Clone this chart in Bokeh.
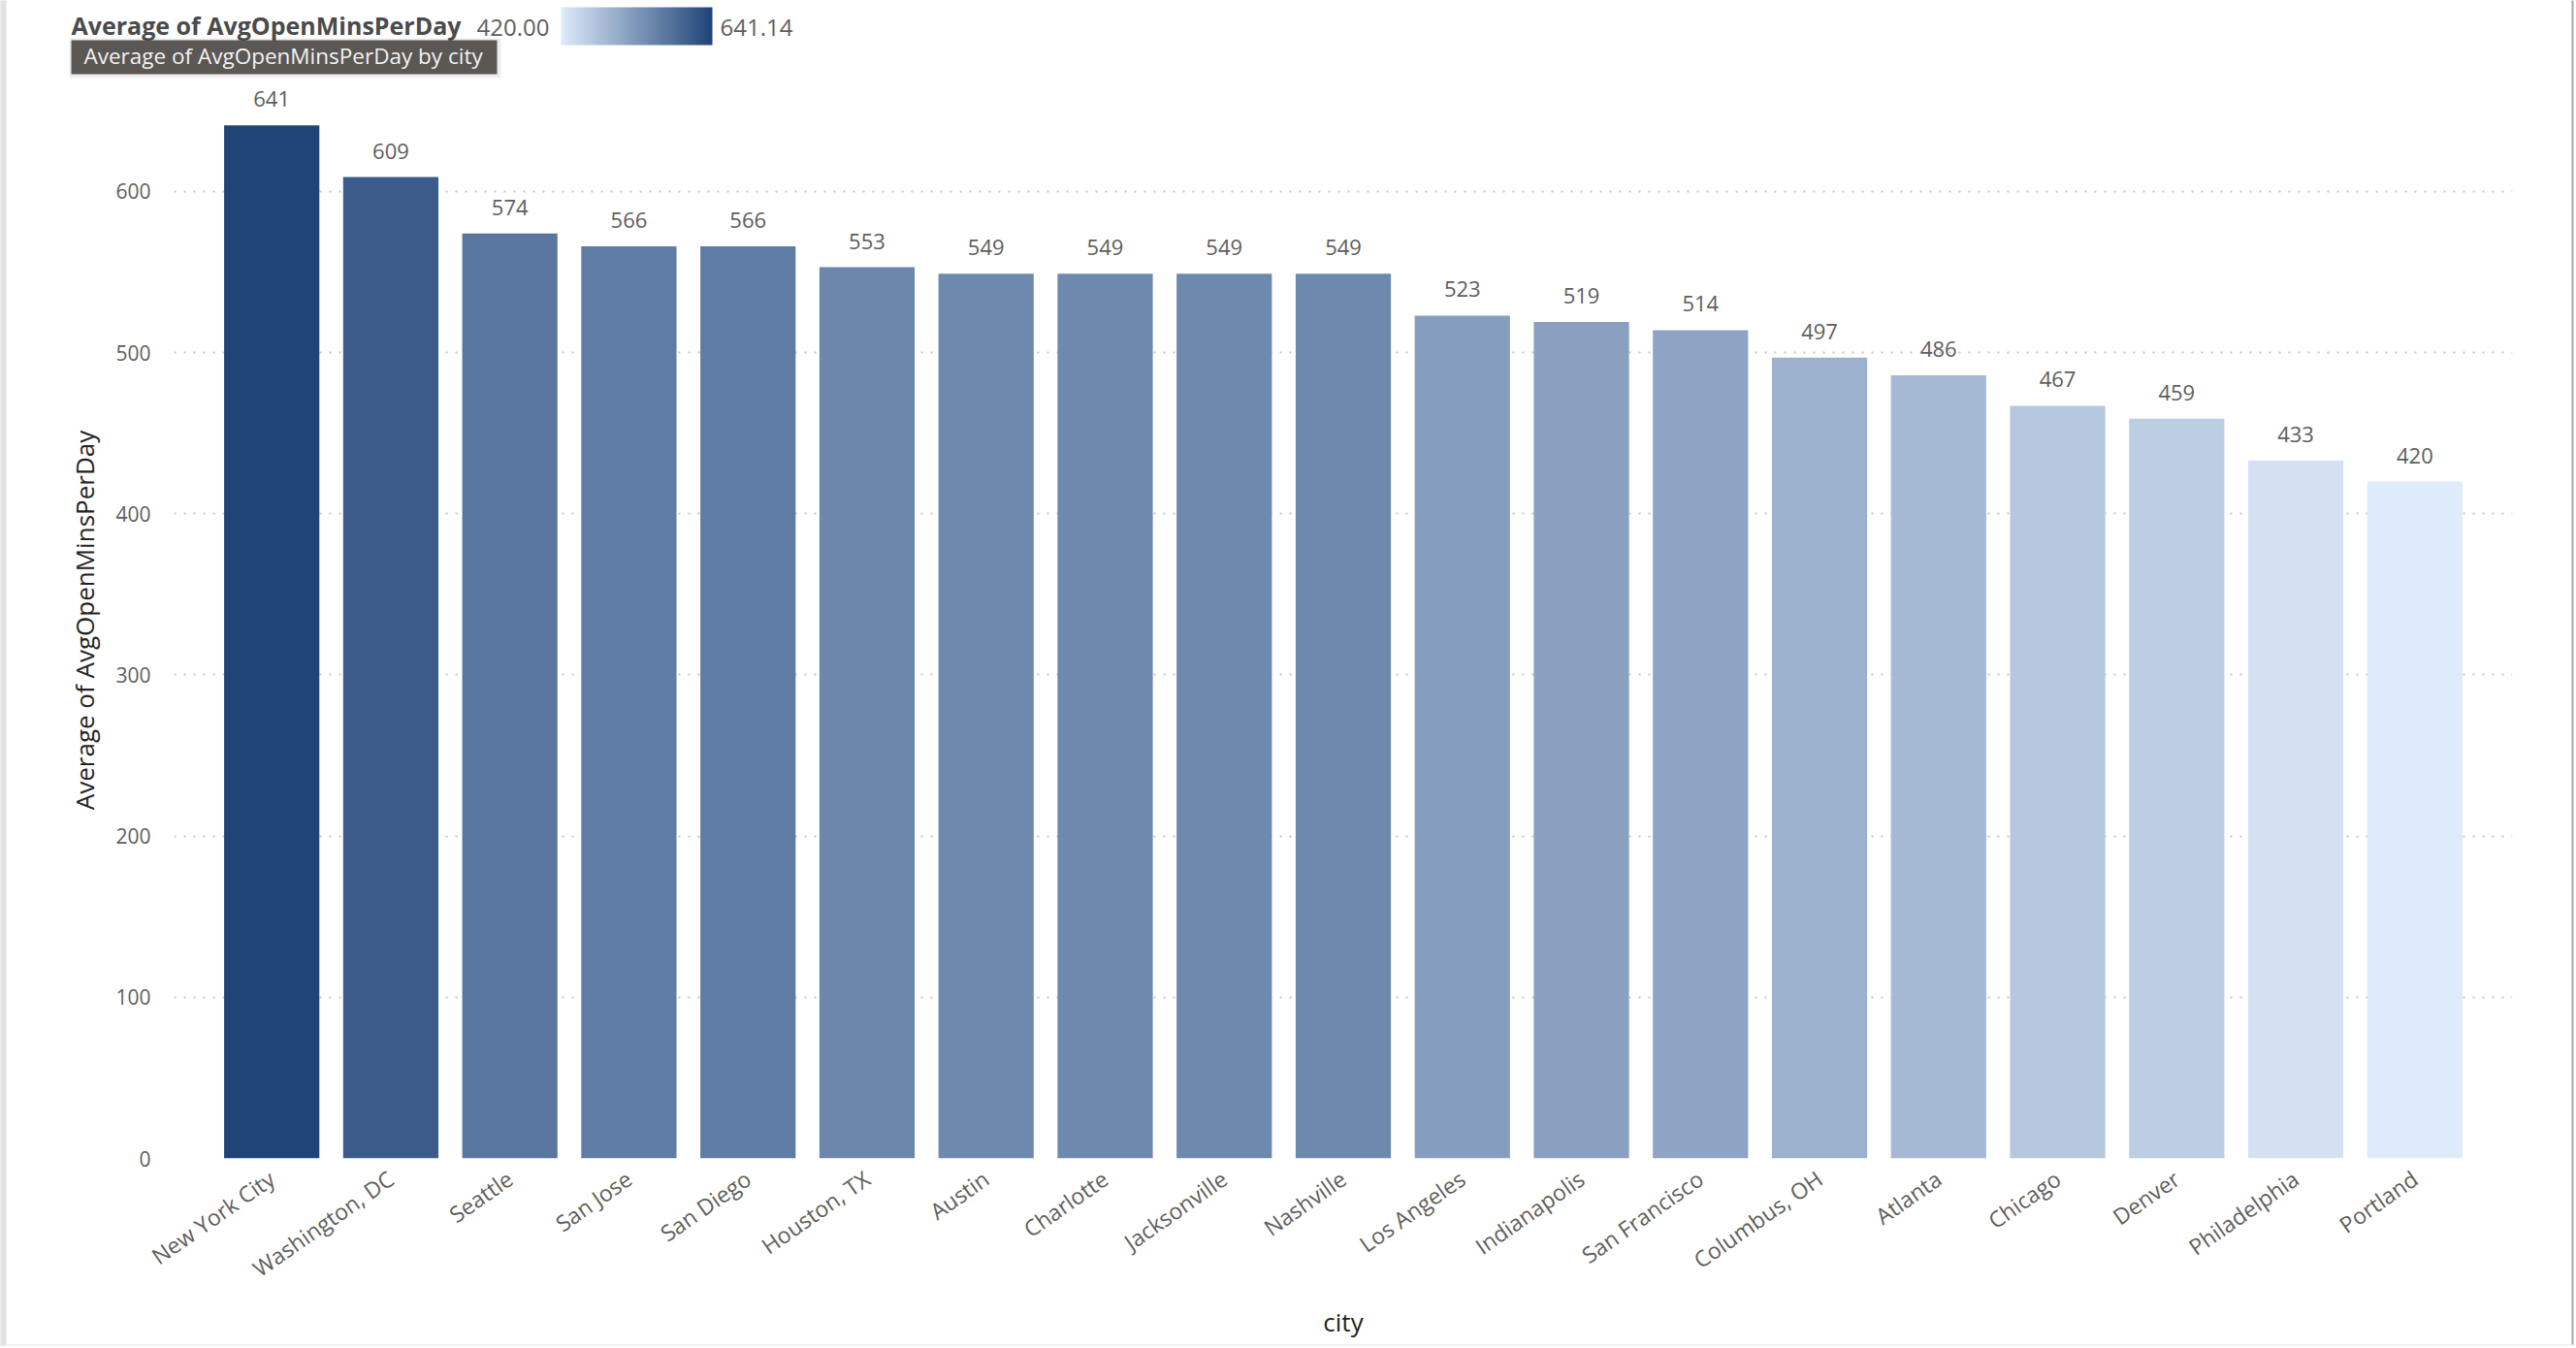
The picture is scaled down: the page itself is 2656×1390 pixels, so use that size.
import math
import numpy as np
from bokeh.plotting import figure
from bokeh.models import (FactorRange, FixedTicker, LinearColorMapper, ColumnDataSource,
                          Range1d, ColorBar)
from bokeh.embed import file_html
from bokeh.resources import INLINE
from bokeh.core.properties import value

# ---------------- data ----------------
cities = ["New York City", "Washington, DC", "Seattle", "San Jose", "San Diego",
          "Houston, TX", "Austin", "Charlotte", "Jacksonville", "Nashville",
          "Los Angeles", "Indianapolis", "San Francisco", "Columbus, OH", "Atlanta",
          "Chicago", "Denver", "Philadelphia", "Portland"]
avg_open_mins = [641.14, 609, 574, 566, 566, 553, 549, 549, 549, 549,
                 523, 519, 514, 497, 486, 467, 459, 433, 420.00]
y_ticks = [0, 100, 200, 300, 400, 500, 600]
legend_title = "Average of AvgOpenMinsPerDay"
tooltip_text = "Average of AvgOpenMinsPerDay by city"
x_title = "city"
y_title = "Average of AvgOpenMinsPerDay"

FONT = "Open Sans"
W, H = 2654, 1388
FL, FR, FT = 179, 2590, 84          # frame left / right / top (canvas px)
FB = 1194                           # frame bottom (canvas px)
PAD = 0.32                          # categorical padding on each side

# gradient palette (light -> dark)
low_rgb = np.array([0xDE, 0xEB, 0xFB])
high_rgb = np.array([0x1F, 0x44, 0x78])
palette = []
for t in np.linspace(0, 1, 256):
    c = np.round(low_rgb + (high_rgb - low_rgb) * t).astype(int)
    palette.append("#%02x%02x%02x" % tuple(c))
vmin, vmax = min(avg_open_mins), max(avg_open_mins)
mapper = LinearColorMapper(palette=palette, low=vmin, high=vmax)

src = ColumnDataSource(dict(city=cities, val=avg_open_mins,
                            label=[str(int(round(v))) for v in avg_open_mins]))

p = figure(width=W, height=H,
           x_range=FactorRange(factors=cities, range_padding=PAD, range_padding_units="absolute"),
           y_range=Range1d(0, 668),
           toolbar_location=None, output_backend="svg",
           min_border_left=FL, min_border_right=W - FR,
           min_border_top=FT, min_border_bottom=H - FB)
p.outline_line_color = None

p.vbar(x="city", top="val", width=0.8, source=src,
       fill_color={"field": "val", "transform": mapper}, line_color=None)
p.text(x="city", y="val", text="label", source=src, text_font=value(FONT),
       text_font_size="22px", text_color="#605E5C", text_align="center",
       text_baseline="bottom", y_offset=-19)

p.xgrid.grid_line_color = None
p.ygrid.grid_line_color = "#C8C6C4"
p.ygrid.grid_line_dash = "2 8"
p.ygrid.grid_line_width = 2

p.yaxis.ticker = FixedTicker(ticks=y_ticks)
for ax in (p.xaxis[0], p.yaxis[0]):
    ax.axis_line_color = None
    ax.major_tick_line_color = None
    ax.minor_tick_line_color = None
    ax.major_label_text_font = FONT
    ax.major_label_text_color = "#605E5C"
    ax.axis_label_text_font = FONT
    ax.axis_label_text_font_size = "26px"
    ax.axis_label_text_font_style = "normal"
    ax.axis_label_text_color = "#252423"

p.xaxis.axis_label = x_title
p.xaxis.major_label_text_font_size = "23px"
p.xaxis.major_label_orientation = math.radians(35)
p.xaxis.major_label_standoff = 12
p.xaxis.axis_label_standoff = 5

p.yaxis.axis_label = y_title
p.yaxis.major_label_text_font_size = "21px"
p.yaxis.major_label_standoff = 18
p.yaxis.axis_label_standoff = 11


# decorations outside the frame: layout-managed colour-bar annotations
# (position given as offset of the bottom-left corner from the frame's bottom-left)
def _base_bar(**kw):
    return ColorBar(color_mapper=mapper, orientation="horizontal", padding=0,
                    ticker=FixedTicker(ticks=[]), major_tick_line_color=None,
                    minor_tick_line_color=None, bar_line_color=None,
                    border_line_color=None, **kw)


def header_box(left, right, top, bottom, color, alpha=1.0):
    p.add_layout(_base_bar(width=int(right - left), height=int(bottom - top),
                           scale_alpha=0.0, title=None,
                           background_fill_color=color, background_fill_alpha=alpha,
                           location=(left - FL, FB - bottom)))


def header_text(text, x, y_center, size, color, bold=False):
    h = size * 1.36
    p.add_layout(_base_bar(width=1, height=1, scale_alpha=0.0, title=text,
                           title_text_font=FONT, title_text_font_size="%gpx" % size,
                           title_text_color=color,
                           title_text_font_style="bold" if bold else "normal",
                           title_standoff=0, background_fill_alpha=0.0,
                           location=(x - FL, FB - (y_center + h / 2 + 1))))


# ---------------- visual container frame ----------------
header_box(0, 6, 0, H, "#E2E2E2")
header_box(0, W, 1386, H, "#E6E6E6")
header_box(2651, 2653, 0, 1386, "#A8A8A8")

# ---------------- header: gradient legend ----------------
header_text(legend_title, 73, 25, 25, "#4B4B4B", bold=True)
header_text("%.2f" % vmin, 491, 20, 24, "#605E5C")
header_text("%.2f" % vmax, 742, 20, 24, "#605E5C")
p.add_layout(_base_bar(width=156, height=39, title=None, background_fill_color=None,
                       location=(578 - FL, FB - 46)))

# ---------------- header: tooltip box ----------------
header_box(71, 516, 39, 80, "#000000", alpha=0.07)
header_box(73, 512, 41, 76, "#5A5754")
header_text(tooltip_text, 86, 57, 22.5, "#F2F2F2")

open("out.html", "w").write(file_html(p, INLINE))
